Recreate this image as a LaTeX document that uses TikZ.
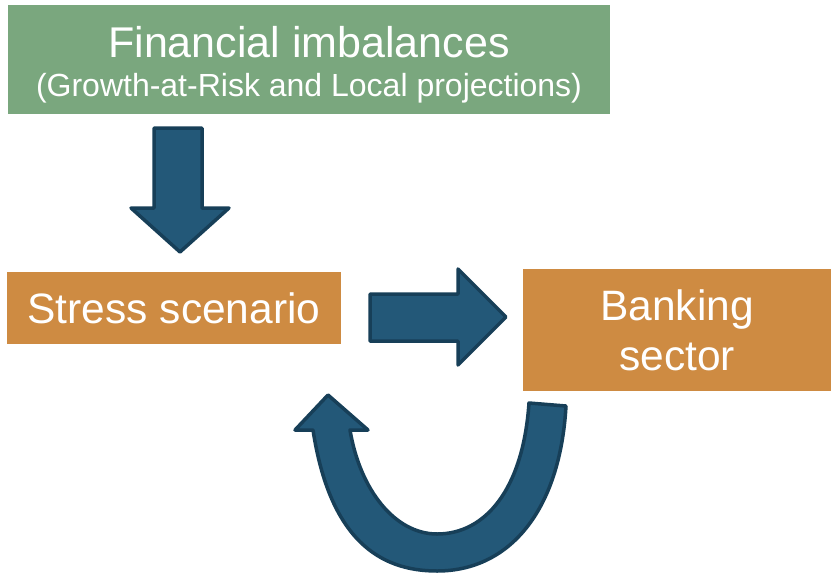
\documentclass[tikz,border=0pt]{standalone}
\usepackage{fontspec}
\setmainfont{Liberation Sans}
\usepackage{xcolor}
\usetikzlibrary{positioning}

\definecolor{imbgreen}{HTML}{7AA77E}
\definecolor{stressorange}{HTML}{CE8B42}
\definecolor{arrowblue}{HTML}{235878}
\definecolor{arrowedge}{HTML}{173F58}

\begin{document}
\begin{tikzpicture}[
    x=1pt, y=-1pt,
    block/.style={
      rectangle, inner sep=0pt, text=white, align=center,
      font=\fontsize{42.5}{50}\selectfont
    },
    title/.style={text=white, anchor=base, inner sep=0pt},
    fat/.style={fill=arrowblue, draw=arrowedge, line width=3.5pt, line join=round}
  ]
  \useasboundingbox (0,0) rectangle (831,574);

  % boxes
  \node[block, fill=imbgreen, minimum width=602pt, minimum height=109pt] (imbal) at (309,59) {};
  \node[title, font=\fontsize{43}{50}\selectfont] (imbtitle) at (309,57) {Financial imbalances};
  \node[title, font=\fontsize{32}{36}\selectfont] (imbsub) at (309,96) {(Growth-at-Risk and Local projections)};

  \node[block, fill=stressorange, minimum width=334pt, minimum height=72pt] (stress) at (174,308) {Stress scenario};
  \node[block, fill=stressorange, minimum width=308pt, minimum height=122pt] (bank) at (677,330) {Banking\\sector};

  % block arrows
  \draw[fat] (154,128) -- (202,128) -- (202,208) -- (229,208) -- (180,252)
    -- (131,208) -- (154,208) -- cycle;
  \draw[fat] (370,294) -- (458,294) -- (458,269) -- (506,317) -- (458,365)
    -- (458,341) -- (370,341) -- cycle;

  % feedback loop
  \draw[fat] (566,406) -- (529,403) .. controls (523,490) and (485,534) .. (437,534)
    .. controls (395,534) and (360,490) .. (350,430) -- (368,430) -- (328,395)
    -- (295,430) -- (313,430) .. controls (330,540) and (380,571) .. (437,571)
    .. controls (510,571) and (560,510) .. (566,406) -- cycle;
\end{tikzpicture}
\end{document}
